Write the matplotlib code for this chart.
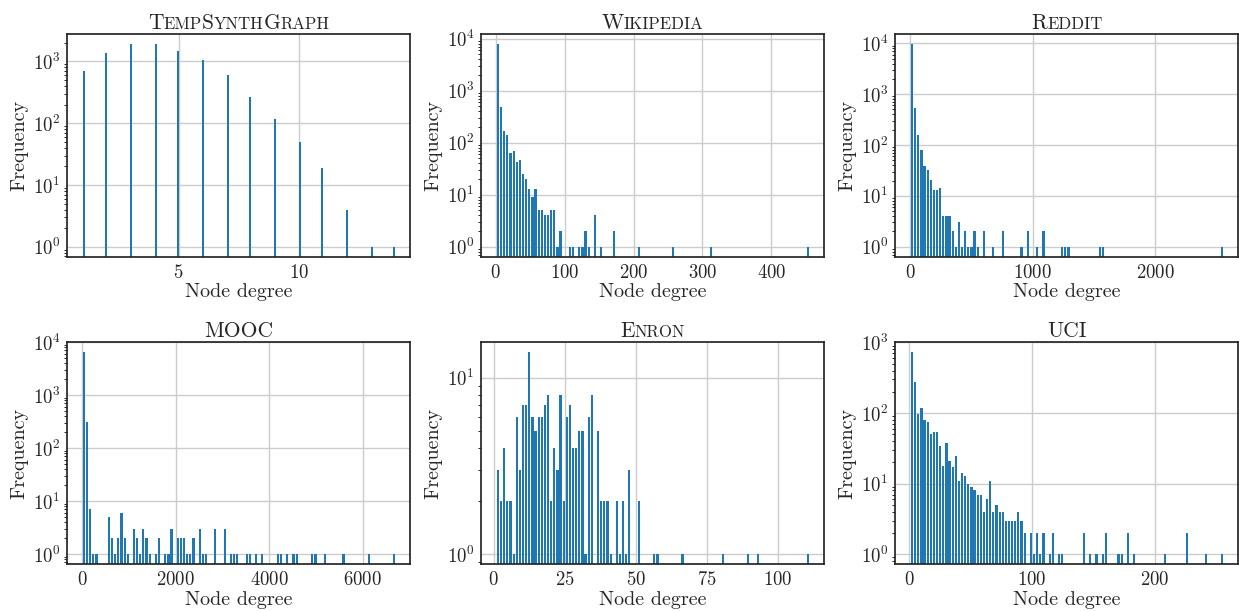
import numpy as np
import matplotlib
matplotlib.use("Agg")
import matplotlib.pyplot as plt
from matplotlib.ticker import MaxNLocator
from matplotlib.offsetbox import TextArea, HPacker, AnchoredOffsetbox

# Computer Modern look
plt.rcParams['font.family'] = 'serif'
plt.rcParams['font.serif'] = ['cmr10']
plt.rcParams['mathtext.fontset'] = 'cm'
plt.rcParams['axes.formatter.use_mathtext'] = True
plt.rcParams['axes.unicode_minus'] = False

BAR_COLOR = '#1f77b4'
N_BINS = 100

# TempSynthGraph: exact degree values and their counts
ts_degrees = [1, 2, 3, 4, 5, 6, 7, 8, 9, 10, 11, 12, 13, 14]
ts_counts = [690, 1390, 1890, 1890, 1490, 1050, 605, 265, 118, 49, 19, 4, 1, 1]

# other datasets: non-empty histogram bins (index out of 100) and counts
wiki_range = (1, 455)
wiki_bins = [0, 1, 2, 3, 4, 5, 6, 7, 8, 9, 10, 11, 12, 13, 14, 15, 16, 17, 18, 19,
             20, 23, 24, 26, 27, 28, 29, 31, 33, 37, 45, 56, 68, 99]
wiki_counts = [7740, 491, 169, 143, 63, 68, 43, 46, 25, 20, 13, 9, 13, 5, 5, 4, 4, 5, 5, 1,
               2, 1, 1, 1, 1, 2, 1, 4, 1, 2, 1, 1, 1, 1]

reddit_range = (1, 2555)
reddit_bins = [0, 1, 2, 3, 4, 5, 6, 7, 8, 9, 10, 11, 12, 13, 14, 15, 16, 17, 18, 19,
               20, 21, 23, 26, 29, 35, 37, 40, 42, 48, 49, 50, 60, 61, 99]
reddit_counts = [9500, 540, 158, 80, 39, 32, 21, 13, 13, 14, 4, 4, 4, 2, 1, 3, 1, 2, 1, 1,
                 2, 1, 2, 1, 2, 1, 2, 1, 2, 1, 1, 1, 1, 1, 1]

mooc_range = (1, 6700)
mooc_bins = [0, 1, 2, 3, 4, 8, 9, 10, 11, 12, 13, 14, 16, 17, 18, 19, 20, 21, 23, 24,
             26, 27, 28, 30, 31, 32, 33, 34, 35, 37, 38, 39, 42, 45, 47, 48, 49, 52, 53, 55,
             57, 62, 63, 65, 67, 68, 73, 74, 77, 83, 91, 99]
mooc_counts = [6580, 311, 7, 1, 1, 5, 2, 1, 2, 6, 2, 1, 3, 2, 1, 3, 2, 1, 1, 2,
               1, 1, 3, 2, 2, 2, 1, 1, 2, 3, 1, 1, 3, 3, 1, 1, 1, 1, 1, 1,
               1, 1, 1, 1, 1, 1, 1, 1, 1, 1, 1, 1]

enron_range = (1, 111)
enron_bins = [0, 1, 2, 3, 4, 5, 6, 7, 8, 9, 10, 11, 12, 13, 14, 15, 16, 17, 18, 19,
              20, 21, 22, 23, 24, 25, 26, 27, 28, 29, 30, 32, 33, 34, 35, 36, 38, 39, 40, 41,
              42, 45, 50, 51, 59, 72, 80, 83, 99]
enron_counts = [3, 2, 4, 2, 2, 1, 6, 3, 7, 7, 14, 6, 5, 6, 6, 7, 8, 2, 4, 3,
                8, 2, 6, 7, 4, 4, 5, 5, 1, 6, 8, 5, 2, 2, 2, 1, 2, 1, 2, 1,
                3, 2, 1, 1, 1, 1, 1, 1, 1]

uci_range = (1, 256)
uci_bins = [0, 1, 2, 3, 4, 5, 6, 7, 8, 9, 10, 11, 12, 13, 14, 15, 16, 17, 18, 19,
            20, 21, 22, 23, 24, 25, 26, 27, 28, 29, 30, 31, 32, 33, 34, 35, 36, 38, 39, 40,
            41, 42, 44, 45, 47, 48, 55, 57, 59, 61, 62, 66, 67, 69, 71, 81, 88, 94, 99]
uci_counts = [736, 274, 98, 118, 80, 74, 50, 53, 53, 34, 18, 38, 21, 17, 25, 11, 14, 13, 10, 9,
              8, 7, 7, 4, 6, 11, 4, 5, 4, 4, 3, 3, 3, 3, 4, 3, 2, 2, 1, 2,
              1, 2, 1, 2, 1, 1, 2, 1, 1, 1, 2, 1, 1, 2, 1, 1, 2, 1, 1]

titles = ["TempSynthGraph", "Wikipedia", "Reddit", "MOOC", "Enron", "UCI"]


def bin_centers(bins, rng):
    lo, hi = rng
    w = (hi - lo) / N_BINS
    return [lo + (b + 0.5) * w for b in bins]


def small_caps_title(ax, text, size=15.5):
    # fake \textsc: capitals at full size, lower case as smaller capitals
    runs = []
    for ch in text:
        small = ch.islower()
        if runs and runs[-1][1] == small:
            runs[-1][0] += ch.upper()
        else:
            runs.append([ch.upper(), small])
    areas = [TextArea(t, textprops=dict(fontsize=size * 0.78 if s else size, color='#262626'))
             for t, s in runs]
    box = HPacker(children=areas, align='baseline', pad=0, sep=0)
    anchored = AnchoredOffsetbox(loc='lower center', child=box, pad=0, borderpad=0,
                                 frameon=False, bbox_to_anchor=(0.5, 1.005),
                                 bbox_transform=ax.transAxes)
    ax.add_artist(anchored)


def plot_hist(ax, values, counts, rng, title):
    ax.hist(values, bins=N_BINS, range=rng, weights=counts, log=True,
            color=BAR_COLOR, rwidth=0.7, zorder=2)
    ax.set_axisbelow(True)
    ax.grid(True, color='#cccccc', linewidth=1.0)
    ax.xaxis.set_major_locator(MaxNLocator(nbins=5, steps=[1, 2, 2.5, 5, 10]))
    for sp in ax.spines.values():
        sp.set_color('#262626')
        sp.set_linewidth(1.25)
    ax.tick_params(length=0, labelsize=13.5, pad=5, colors='#262626')
    ax.set_xlabel('Node degree', fontsize=14.5, color='#262626', labelpad=1)
    ax.set_ylabel('Frequency', fontsize=14.5, color='#262626', labelpad=3)
    small_caps_title(ax, title)


fig, axes = plt.subplots(2, 3, figsize=(12.39, 6.11), dpi=100)
fig.subplots_adjust(left=0.0543, right=0.9995, top=0.9439, bottom=0.0764,
                    wspace=0.207, hspace=0.381)

plot_hist(axes[0, 0], ts_degrees, ts_counts, (min(ts_degrees), max(ts_degrees)), titles[0])
plot_hist(axes[0, 1], bin_centers(wiki_bins, wiki_range), wiki_counts, wiki_range, titles[1])
plot_hist(axes[0, 2], bin_centers(reddit_bins, reddit_range), reddit_counts, reddit_range, titles[2])
plot_hist(axes[1, 0], bin_centers(mooc_bins, mooc_range), mooc_counts, mooc_range, titles[3])
plot_hist(axes[1, 1], bin_centers(enron_bins, enron_range), enron_counts, enron_range, titles[4])
plot_hist(axes[1, 2], bin_centers(uci_bins, uci_range), uci_counts, uci_range, titles[5])

fig.savefig('out.png', dpi=100)
